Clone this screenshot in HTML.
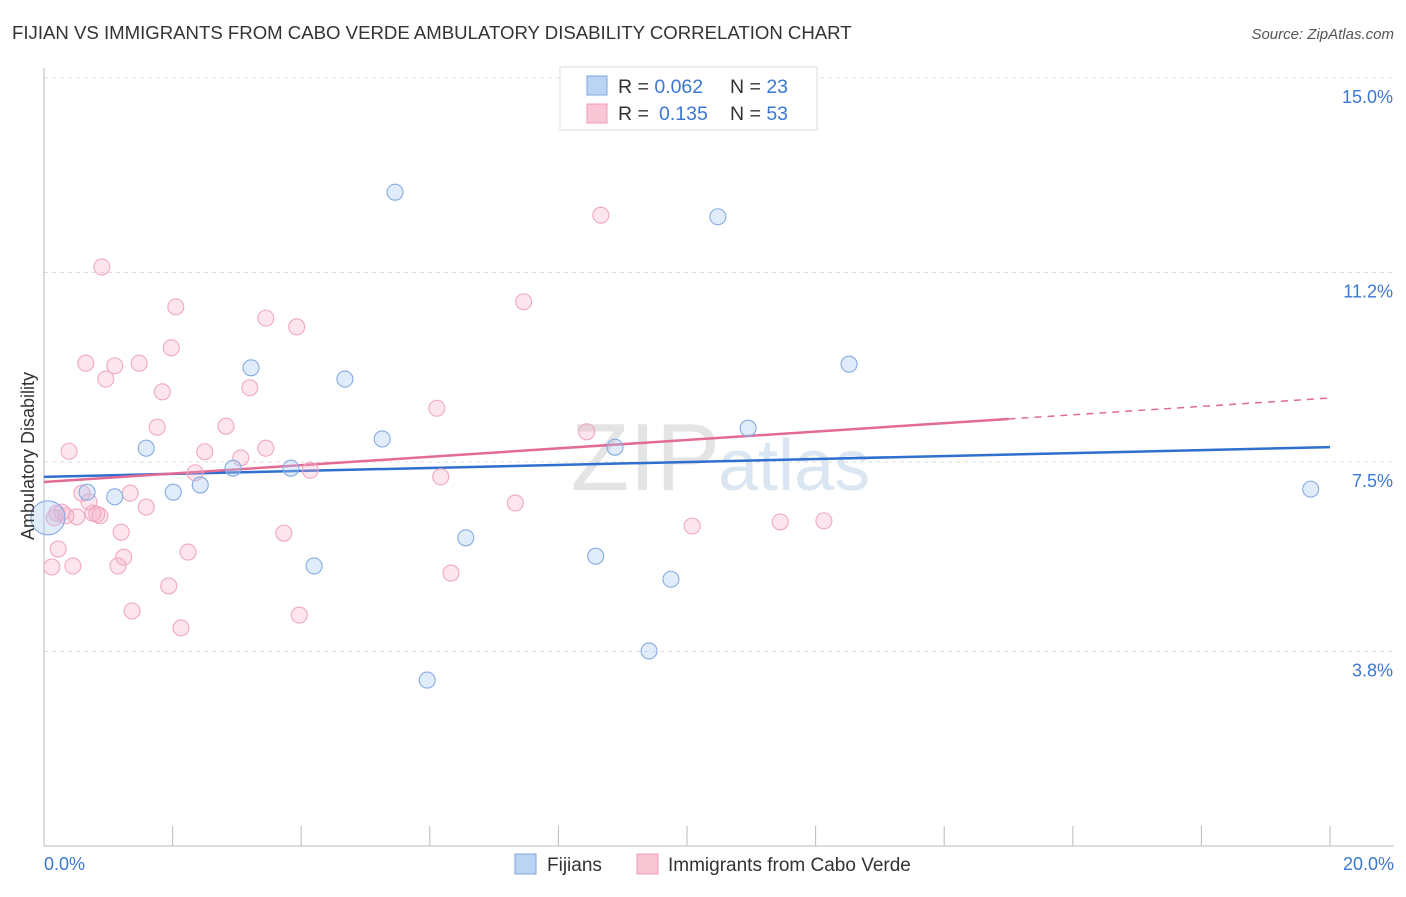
<!DOCTYPE html>
<html><head><meta charset="utf-8"><style>
body{margin:0;background:#fff;font-family:"Liberation Sans",sans-serif;}
svg text{font-family:"Liberation Sans",sans-serif;}
</style></head><body>
<svg id="chart" width="1406" height="892" xmlns="http://www.w3.org/2000/svg">
<text x="12" y="39" font-size="18.6" fill="#333">FIJIAN VS IMMIGRANTS FROM CABO VERDE AMBULATORY DISABILITY CORRELATION CHART</text>
<text x="1394" y="39" font-size="15" fill="#555" font-style="italic" text-anchor="end">Source: ZipAtlas.com</text>
<text x="720" y="490" font-size="96" fill="#e4e4e4" text-anchor="end" font-family="Liberation Serif">ZIP</text>
<text x="718" y="490" font-size="72" fill="#dbe6f3">atlas</text>
<g id="grid"></g><g id="axes"></g><g id="trends"></g><g id="points"></g>
<text transform="translate(34,456) rotate(-90)" font-size="18" fill="#333" text-anchor="middle">Ambulatory Disability</text>
<text x="44" y="870" font-size="18" fill="#3a78d4">0.0%</text>
<text x="1394" y="870" font-size="18" fill="#3a78d4" text-anchor="end">20.0%</text>
<g>
<rect x="560" y="67" width="257" height="63" fill="#fff" stroke="#ddd"/>
<rect x="587" y="76" width="20" height="19" fill="#bcd4f4" stroke="#7ba4e0"/>
<rect x="587" y="104" width="20" height="19" fill="#f9c6d6" stroke="#f09ab6"/>
<text x="618" y="93" font-size="19.5" fill="#333">R = <tspan fill="#3a78d4">0.062</tspan><tspan x="730">N = </tspan><tspan fill="#3a78d4">23</tspan></text>
<text x="618" y="120" font-size="19.5" fill="#333">R = <tspan fill="#3a78d4" x="659">0.135</tspan><tspan x="730">N = </tspan><tspan fill="#3a78d4">53</tspan></text>
</g>
<g>
<rect x="515" y="854" width="21" height="20" fill="#bcd4f4" stroke="#7ba4e0"/>
<text x="547" y="871" font-size="19" fill="#333">Fijians</text>
<rect x="637" y="854" width="21" height="20" fill="#f9c6d6" stroke="#f09ab6"/>
<text x="668" y="871" font-size="19" fill="#333">Immigrants from Cabo Verde</text>
</g>
</svg>
<script>
const yTicks=[3.8,7.5,11.2,15.0];
const yTickLabels=["3.8%","7.5%","11.2%","15.0%"];
const fijiX=[5.46,10.48,3.22,4.68,12.52,5.26,1.59,8.88,10.95,2.94,3.84,0.67,1.10,2.01,2.43,19.70,6.56,8.58,4.20,9.75,9.41,5.96,0.06];
const fijiY=[12.77,12.29,9.34,9.12,9.41,7.95,7.77,7.79,8.16,7.38,7.38,6.91,6.82,6.91,7.05,6.97,6.02,5.66,5.47,5.21,3.81,3.24,6.41];
const caboX=[0.90,8.66,2.05,3.45,3.93,7.46,0.65,1.10,1.48,1.98,0.96,1.84,3.20,6.11,1.76,2.83,0.39,2.50,3.45,3.06,8.44,2.35,4.14,6.17,0.59,1.34,0.70,1.59,0.28,0.51,0.76,0.87,0.16,7.33,10.08,11.45,12.13,1.20,3.73,0.22,1.24,2.24,0.12,0.45,1.15,6.33,1.94,1.37,3.97,2.13,0.34,0.20,0.82];
const caboY=[11.31,12.32,10.53,10.31,10.14,10.63,9.43,9.38,9.43,9.73,9.12,8.87,8.95,8.55,8.18,8.20,7.71,7.70,7.77,7.58,8.09,7.29,7.34,7.21,6.89,6.89,6.72,6.62,6.52,6.43,6.50,6.45,6.41,6.70,6.25,6.33,6.35,6.13,6.11,5.80,5.64,5.74,5.45,5.47,5.47,5.33,5.08,4.59,4.51,4.26,6.45,6.50,6.48];
const fijiTrend=[7.21,7.79];
const caboTrend=[7.11,8.75];
const caboSolidEnd=15.0;
const NS="http://www.w3.org/2000/svg";
const X=v=>44+v*64.3, Y=v=>846-v*51.2;
function mk(tag,attrs,parent){const e=document.createElementNS(NS,tag);for(const k in attrs)e.setAttribute(k,attrs[k]);document.getElementById(parent).appendChild(e);return e;}
yTicks.forEach((t,i)=>{
 const l=mk('line',{x1:44,x2:1394,y1:Y(t),y2:Y(t),stroke:'#ddd','stroke-dasharray':'4,4'},'grid');
 
 
 const tx=mk('text',{x:1393,y:Y(t)+25,'font-size':18,fill:'#3a78d4','text-anchor':'end'},'grid');
 tx.textContent=yTickLabels[i];
 
 
});
const ax=mk('line',{x1:44,x2:44,y1:68,y2:846,stroke:'#bbb'},'axes');


const bx=mk('line',{x1:44,x2:1394,y1:846,y2:846,stroke:'#bbb'},'axes');


for(let i=0;i<=10;i++){const t=mk('line',{x1:X(i*2),x2:X(i*2),y1:826,y2:846,stroke:'#bbb'},'axes');
 
 }
const slope=(caboTrend[1]-caboTrend[0])/20;
const tb=mk('line',{x1:X(0),y1:Y(fijiTrend[0]),x2:X(20),y2:Y(fijiTrend[1]),stroke:'#2f6fd0','stroke-width':2.5},'trends');


const tp=mk('line',{x1:X(0),y1:Y(caboTrend[0]),x2:X(caboSolidEnd),y2:Y(caboTrend[0]+slope*caboSolidEnd),stroke:'#e26a94','stroke-width':2.5},'trends');


const td=mk('line',{x1:X(caboSolidEnd),y1:Y(caboTrend[0]+slope*caboSolidEnd),x2:X(20),y2:Y(caboTrend[1]),stroke:'#e26a94','stroke-width':1.5,'stroke-dasharray':'7,6'},'trends');


caboX.forEach((v,i)=>{const c=mk('circle',{cx:X(v),cy:Y(caboY[i]),r:8,fill:'rgba(246,170,195,0.3)',stroke:'#f0a8c0','stroke-width':1.1},'points');
 
 });
fijiX.forEach((v,i)=>{const c=mk('circle',{cx:X(v),cy:Y(fijiY[i]),r:i===fijiX.length-1?17:8,fill:'rgba(170,200,240,0.35)',stroke:'#85abe2','stroke-width':1.1},'points');
 
 });
</script>
</body></html>
